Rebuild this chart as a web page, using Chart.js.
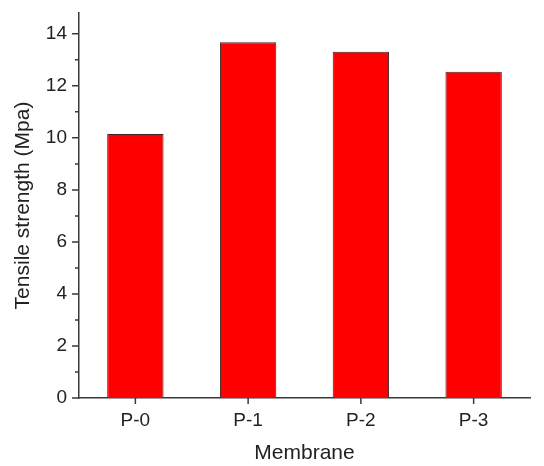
<!DOCTYPE html>
<html>
<head>
<meta charset="utf-8">
<script src="https://cdn.jsdelivr.net/npm/chart.js@4"></script>
<style>
  html, body { margin: 0; padding: 0; background: #fff; }
  #wrap { width: 544px; height: 466px; }
</style>
</head>
<body>
<div id="wrap"><canvas id="grafico"></canvas></div>
<script>
// datos
const membranas = ['P-0', 'P-1', 'P-2', 'P-3'];
const resistencia = [10.15, 13.68, 13.31, 12.54];
const yTicks = [0, 2, 4, 6, 8, 10, 12, 14];
const yMenores = [1, 3, 5, 7, 9, 11, 13];

const ejeColor = '#3a3a3a';
const fuente = 'Liberation Sans, Arial, sans-serif';

// dibuja las marcas de los ejes (mayores y menores) hacia fuera
const marcas = {
    id: 'marcas',
    afterDraw(chart) {
        const ctx = chart.ctx, a = chart.chartArea;
        const x = chart.scales.x, y = chart.scales.y;
        ctx.save();
        ctx.strokeStyle = ejeColor;
        ctx.lineWidth = 1.5;
        ctx.beginPath();
        yTicks.forEach(v => {
            const p = y.getPixelForValue(v);
            ctx.moveTo(a.left - 7, p); ctx.lineTo(a.left, p);
        });
        yMenores.forEach(v => {
            const p = y.getPixelForValue(v);
            ctx.moveTo(a.left - 4, p); ctx.lineTo(a.left, p);
        });
        membranas.forEach((m, i) => {
            const p = x.getPixelForValue(i);
            ctx.moveTo(p, a.bottom); ctx.lineTo(p, a.bottom + 6);
        });
        ctx.stroke();
        ctx.restore();
    }
};

new Chart(document.getElementById('grafico').getContext('2d'), {
    type: 'bar',
    data: {
        labels: membranas,
        datasets: [{
            label: 'Tensile strength',
            data: resistencia,
            backgroundColor: '#ff0000',
            borderColor: '#3c2626',
            borderWidth: 1,
            borderSkipped: 'bottom',
            barPercentage: 0.5,
            categoryPercentage: 1
        }]
    },
    options: {
        responsive: true,
        maintainAspectRatio: false,
        animation: false,
        layout: { padding: { top: 13, right: 14, left: 0, bottom: 0 } },
        plugins: { legend: { display: false }, tooltip: { enabled: false } },
        scales: {
            x: {
                grid: { display: false },
                border: { display: true, color: ejeColor, width: 1.5 },
                ticks: { color: '#222', font: { family: fuente, size: 19 }, padding: 3 },
                title: { display: true, text: 'Membrane', color: '#222', font: { family: fuente, size: 21 }, padding: { top: 1, bottom: 0 } },
                afterFit: s => { s.height = 68; }
            },
            y: {
                min: 0,
                max: 14.8,
                grid: { display: false },
                border: { display: true, color: ejeColor, width: 1.5 },
                afterBuildTicks: s => { s.ticks = yTicks.map(v => ({ value: v })); },
                ticks: { color: '#222', font: { family: fuente, size: 19 }, padding: 4 },
                title: { display: true, text: 'Tensile strength (Mpa)', color: '#222', font: { family: fuente, size: 21 }, padding: { top: 11, bottom: 4 } },
                afterFit: s => { s.width = 79; s.paddingTop = 0; s.paddingBottom = 0; }
            }
        }
    },
    plugins: [marcas]
});
</script>
</body>
</html>
